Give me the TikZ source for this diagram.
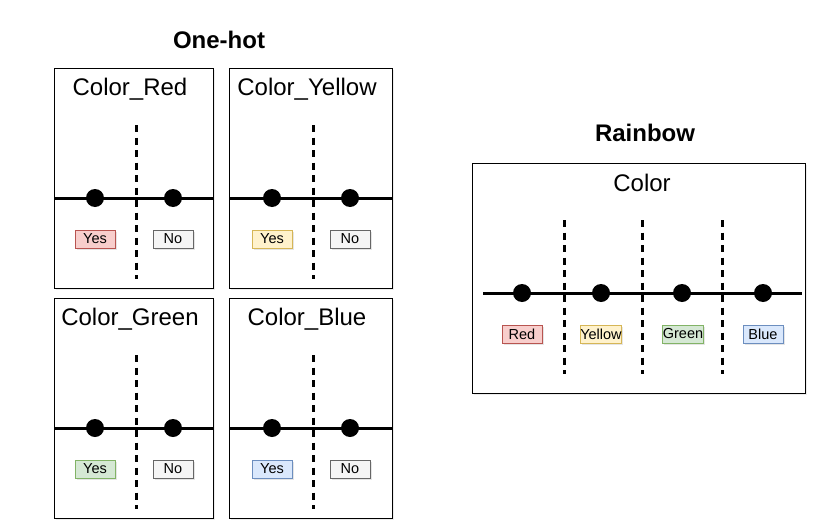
\documentclass[tikz,border=0pt]{standalone}
\usepackage{fontspec}
\setmainfont{Liberation Sans}
\usetikzlibrary{shadows}
\definecolor{redfill}{HTML}{F8CECC}\definecolor{reddraw}{HTML}{B85450}
\definecolor{yellowfill}{HTML}{FFF2CC}\definecolor{yellowdraw}{HTML}{D6B656}
\definecolor{greenfill}{HTML}{D5E8D4}\definecolor{greendraw}{HTML}{82B366}
\definecolor{bluefill}{HTML}{DAE8FC}\definecolor{bluedraw}{HTML}{6C8EBF}
\definecolor{nofill}{HTML}{F5F5F5}\definecolor{nodraw}{HTML}{666666}
\begin{document}
\begin{tikzpicture}[x=1pt, y=-1pt,
  panel/.style={draw=black, fill=white, line width=1pt, inner sep=0pt, drop shadow={shadow xshift=1.5pt, shadow yshift=-1.5pt, opacity=0.15}},
  heading/.style={font=\fontsize{24}{24}\selectfont\bfseries},
  caption/.style={font=\fontsize{24}{24}\selectfont},
  axis/.style={line width=3pt},
  divider/.style={line width=3pt, dash pattern=on 7pt off 5.5pt},
  dot/.style={circle, fill=black, inner sep=0pt, minimum size=18pt},
  tag/.style={draw, line width=1pt, minimum width=40pt, minimum height=18pt, inner xsep=0pt, inner ysep=1pt, font=\fontsize{14.5}{14.5}\selectfont, drop shadow={shadow xshift=1.5pt, shadow yshift=-1.5pt, opacity=0.2}}]
\useasboundingbox (0,0) rectangle (830,530);
\node[heading] (onehot) at (219,40) {One-hot};
\node[heading] (rainbow) at (645,133) {Rainbow};
% one-hot panels
\node[panel, minimum width=159pt, minimum height=220pt] (red) at (133.5,178) {};
\node[panel, minimum width=163pt, minimum height=220pt] (yellow) at (310.5,178) {};
\node[panel, minimum width=159pt, minimum height=220pt] (green) at (133.5,408) {};
\node[panel, minimum width=163pt, minimum height=220pt] (blue) at (310.5,408) {};
\node[panel, minimum width=333pt, minimum height=230pt] (color) at (638.5,278) {};
\node[caption] (redT) at (130,89) {Color\_Red};
\node[caption] (yellowT) at (307,89) {Color\_Yellow};
\node[caption] (greenT) at (130,319) {Color\_Green};
\node[caption] (blueT) at (307,319) {Color\_Blue};
\node[caption] (colorT) at (642,183) {Color};
% axes and dividers
\coordinate (redL) at (54,198); \coordinate (redR) at (213,198);
\coordinate (redU) at (136,125); \coordinate (redD) at (136,279);
\coordinate (yellowL) at (229,198); \coordinate (yellowR) at (392,198);
\coordinate (yellowU) at (313,125); \coordinate (yellowD) at (313,279);
\coordinate (greenL) at (54,428); \coordinate (greenR) at (213,428);
\coordinate (greenU) at (136,355); \coordinate (greenD) at (136,509);
\coordinate (blueL) at (229,428); \coordinate (blueR) at (392,428);
\coordinate (blueU) at (313,355); \coordinate (blueD) at (313,509);
\coordinate (colorL) at (483,293); \coordinate (colorR) at (802,293);
\coordinate (div1U) at (564,220); \coordinate (div1D) at (564,374);
\coordinate (div2U) at (642,220); \coordinate (div2D) at (642,374);
\coordinate (div3U) at (722,220); \coordinate (div3D) at (722,374);
\draw[axis] (redL) -- (redR);
\draw[axis] (yellowL) -- (yellowR);
\draw[axis] (greenL) -- (greenR);
\draw[axis] (blueL) -- (blueR);
\draw[axis] (colorL) -- (colorR);
\draw[divider] (redU) -- (redD);
\draw[divider] (yellowU) -- (yellowD);
\draw[divider] (greenU) -- (greenD);
\draw[divider] (blueU) -- (blueD);
\draw[divider] (div1U) -- (div1D);
\draw[divider] (div2U) -- (div2D);
\draw[divider] (div3U) -- (div3D);
% points
\node[dot] (red1) at (95,198) {};
\node[dot] (red2) at (173,198) {};
\node[dot] (yellow1) at (272,198) {};
\node[dot] (yellow2) at (350,198) {};
\node[dot] (green1) at (95,428) {};
\node[dot] (green2) at (173,428) {};
\node[dot] (blue1) at (272,428) {};
\node[dot] (blue2) at (350,428) {};
\node[dot] (color1) at (522,293) {};
\node[dot] (color2) at (601,293) {};
\node[dot] (color3) at (682,293) {};
\node[dot] (color4) at (763,293) {};
% labels
\node[tag, draw=reddraw, fill=redfill] (redYes) at (95,239) {Yes};
\node[tag, draw=nodraw, fill=nofill] (redNo) at (173,239) {No};
\node[tag, draw=yellowdraw, fill=yellowfill] (yellowYes) at (272,239) {Yes};
\node[tag, draw=nodraw, fill=nofill] (yellowNo) at (350,239) {No};
\node[tag, draw=greendraw, fill=greenfill] (greenYes) at (95,469) {Yes};
\node[tag, draw=nodraw, fill=nofill] (greenNo) at (173,469) {No};
\node[tag, draw=bluedraw, fill=bluefill] (blueYes) at (272,469) {Yes};
\node[tag, draw=nodraw, fill=nofill] (blueNo) at (350,469) {No};
\node[tag, draw=reddraw, fill=redfill] (lRed) at (522,334) {Red};
\node[tag, draw=yellowdraw, fill=yellowfill] (lYellow) at (601,334) {Yellow};
\node[tag, draw=greendraw, fill=greenfill] (lGreen) at (683,334) {Green};
\node[tag, draw=bluedraw, fill=bluefill] (lBlue) at (763,334) {Blue};
\end{tikzpicture}
\end{document}
